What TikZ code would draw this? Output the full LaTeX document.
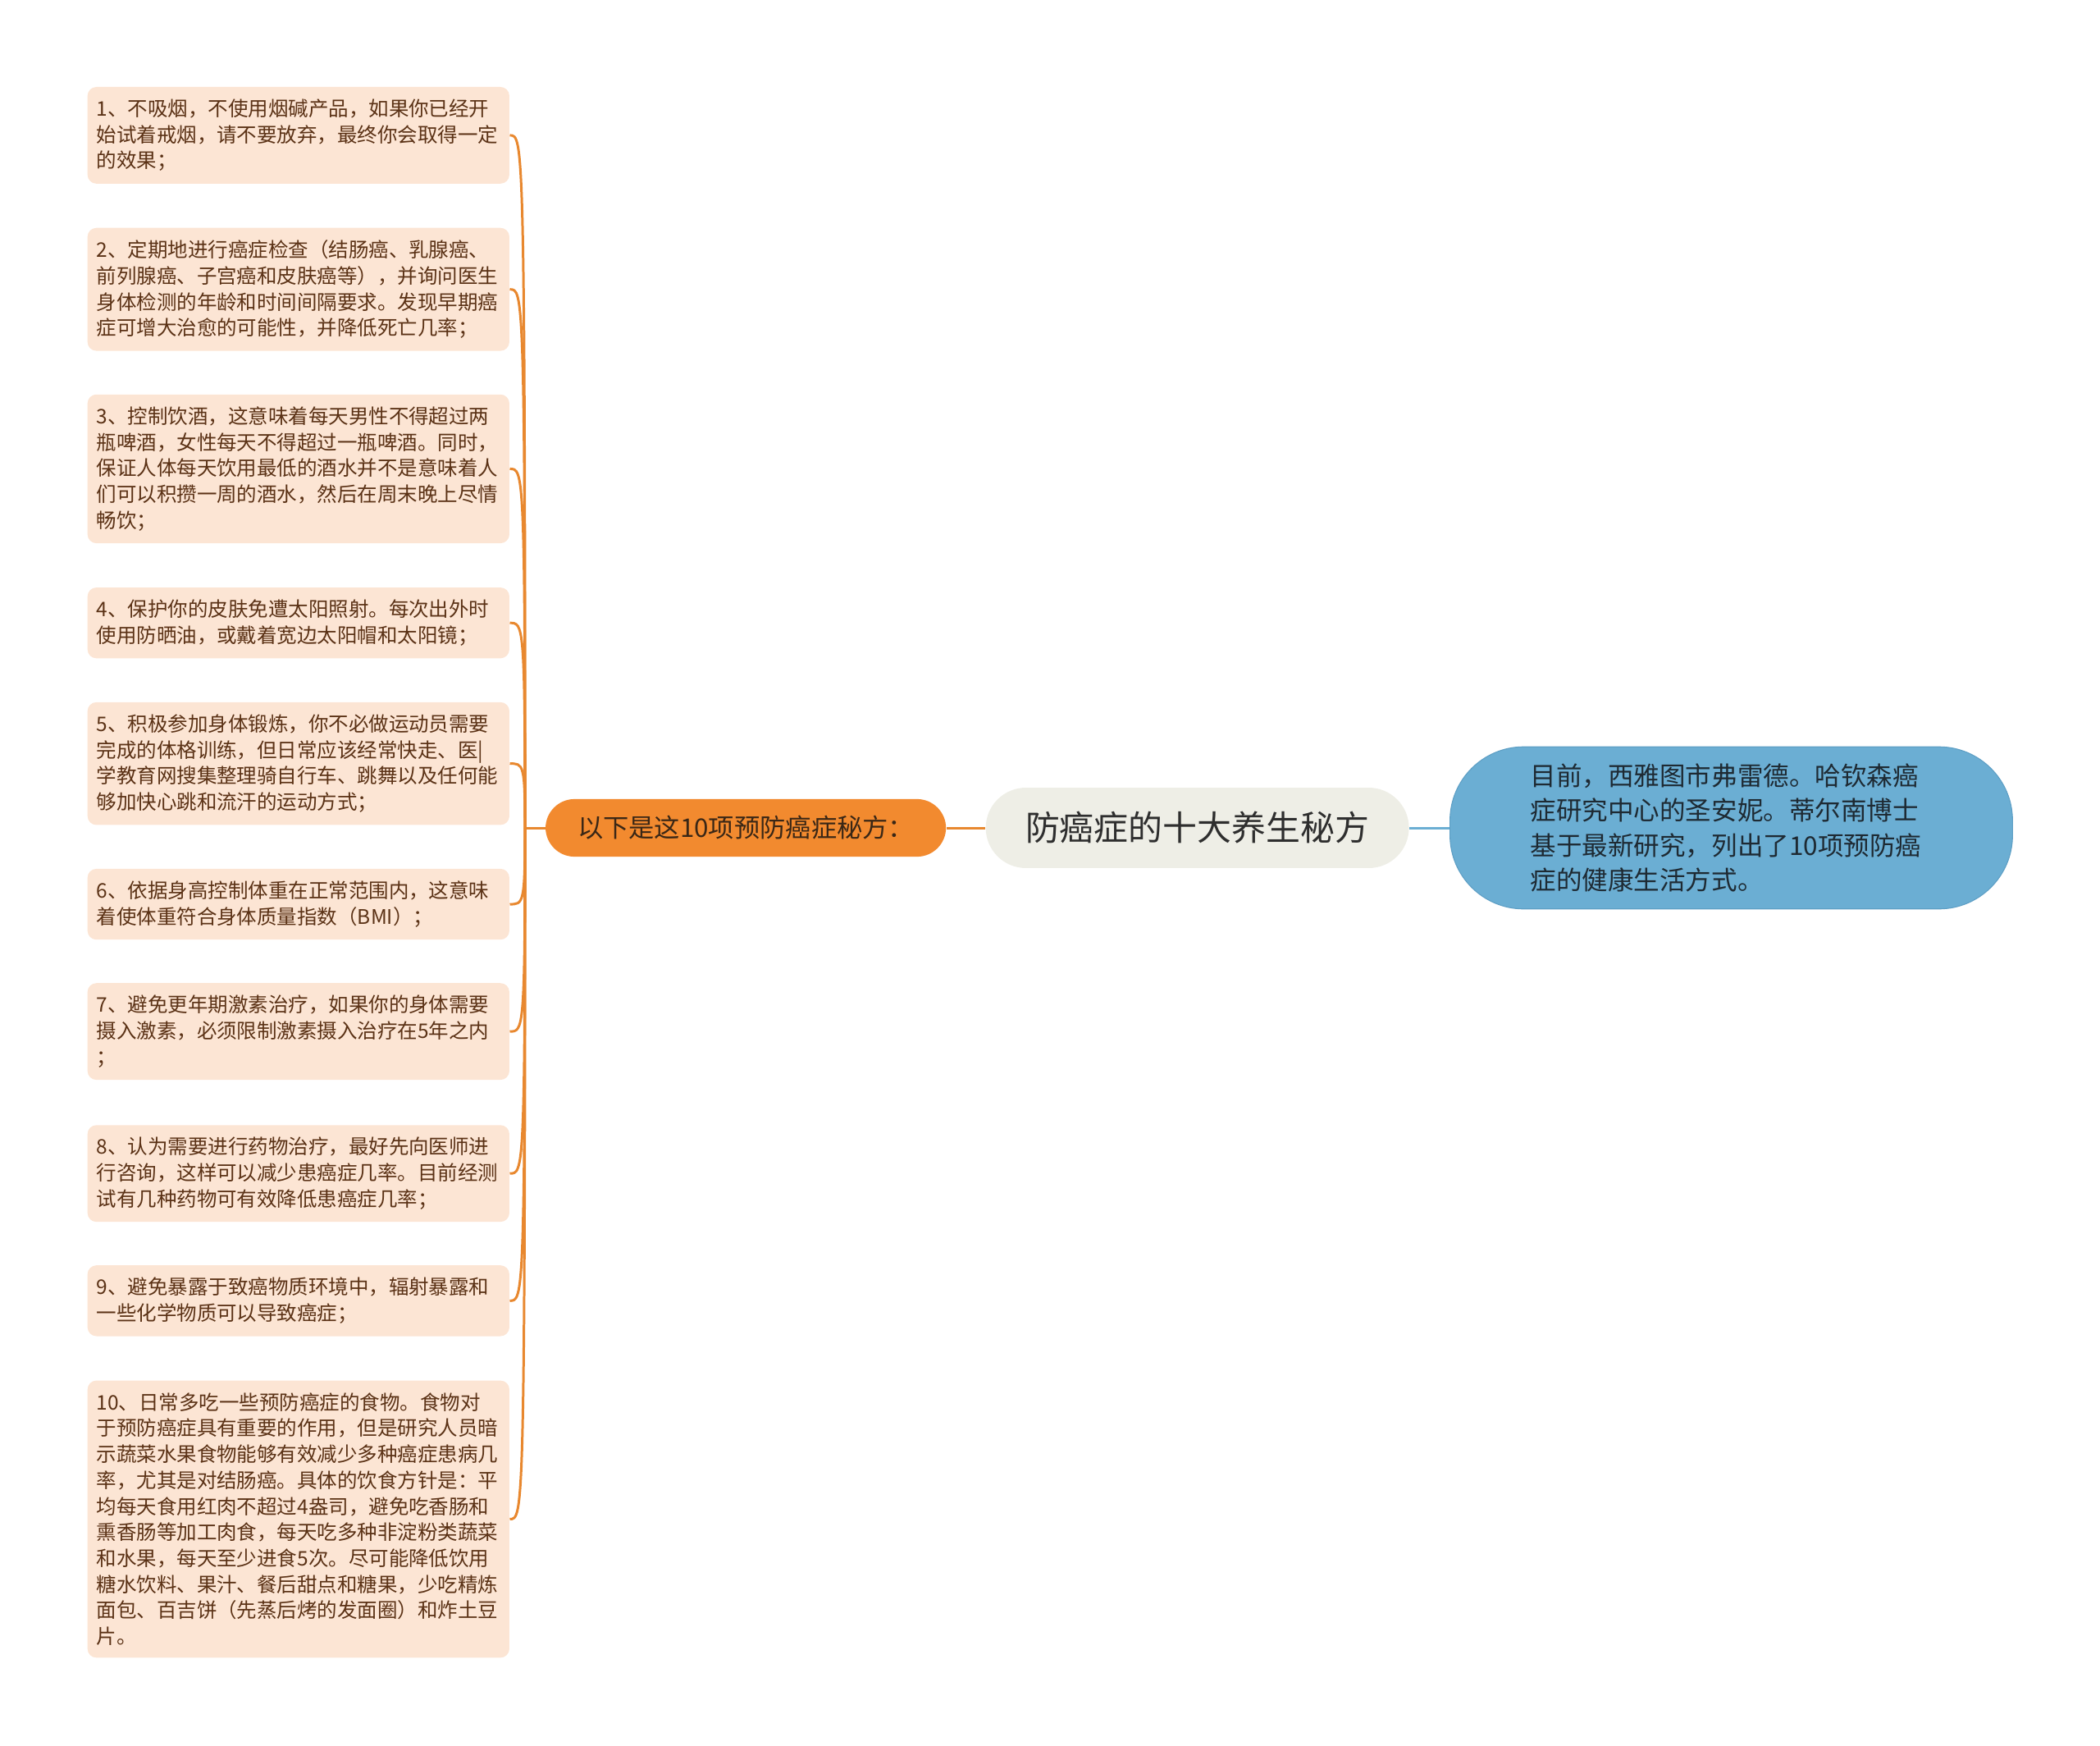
\documentclass[tikz,border=0pt]{standalone}
\usepackage{fontspec}
\newfontfamily\cjk{Noto Sans CJK SC}
\usetikzlibrary{positioning,calc}
\definecolor{leaffill}{HTML}{FCE5D4}
\definecolor{leaftext}{HTML}{5B3216}
\definecolor{suborange}{HTML}{F28A2F}
\definecolor{subtext}{HTML}{3A2716}
\definecolor{branchorange}{HTML}{E8882F}
\definecolor{topicfill}{HTML}{EEEEE6}
\definecolor{topictext}{HTML}{2E2E2E}
\definecolor{notefill}{HTML}{6BAED3}
\definecolor{noteline}{HTML}{5E9FC5}
\definecolor{notetext}{HTML}{1E2A33}
\tikzstyle{branch} = [draw, line width=1.1pt, color=branchorange]
\tikzstyle{link} = [draw, line width=1.1pt, color=notefill]

\begin{document}
\begin{tikzpicture}[x=0.6pt,y=-0.6pt]
\tikzset{leaf/.style={rectangle, rounded corners=4pt, fill=leaffill, text=leaftext, text width=181pt, align=left, inner xsep=4pt, inner ysep=5.5pt, anchor=west, font=\cjk\fontsize{9}{11.64}\selectfont}}
\tikzset{topic/.style={rectangle, rounded corners=18pt, fill=topicfill, text=topictext, minimum width=189.6pt, minimum height=36pt, font=\cjk\fontsize{15.4}{18}\selectfont}}
\tikzset{sub/.style={rectangle, rounded corners=13pt, fill=suborange, text=subtext, minimum width=179.4pt, minimum height=25.8pt, font=\cjk\fontsize{11.5}{13}\selectfont}}
\tikzset{note/.style={rectangle, rounded corners=33pt, fill=notefill, draw=noteline, text=notetext, text width=180pt, align=left, inner xsep=36pt, minimum height=72.6pt, font=\cjk\fontsize{11.6}{15.6}\selectfont}}
\useasboundingbox (0,0) rectangle (1568,1303);

\node [topic] (top) at (894,618) {防癌症的十大养生秘方};
\node [sub, left=17.4pt of top] (sub) {以下是这10项预防癌症秘方：};
\node [note, right=18pt of top] (note) {目前，西雅图市弗雷德。哈钦森癌\\症研究中心的圣安妮。蒂尔南博士\\基于最新研究，列出了10项预防癌\\症的健康生活方式。};
\path [branch] (sub.east) -- (top.west);
\path [link] (top.east) -- (note.west);

\node [leaf] (l1) at (65,101) {1、不吸烟，不使用烟碱产品，如果你已经开\\始试着戒烟，请不要放弃，最终你会取得一定\\的效果；};
\node [leaf] (l2) at (65,216) {2、定期地进行癌症检查（结肠癌、乳腺癌、\\前列腺癌、子宫癌和皮肤癌等），并询问医生\\身体检测的年龄和时间间隔要求。发现早期癌\\症可增大治愈的可能性，并降低死亡几率；};
\node [leaf] (l3) at (65,350) {3、控制饮酒，这意味着每天男性不得超过两\\瓶啤酒，女性每天不得超过一瓶啤酒。同时，\\保证人体每天饮用最低的酒水并不是意味着人\\们可以积攒一周的酒水，然后在周末晚上尽情\\畅饮；};
\node [leaf] (l4) at (65,465) {4、保护你的皮肤免遭太阳照射。每次出外时\\使用防晒油，或戴着宽边太阳帽和太阳镜；};
\node [leaf] (l5) at (65,570) {5、积极参加身体锻炼，你不必做运动员需要\\完成的体格训练，但日常应该经常快走、医|\\学教育网搜集整理骑自行车、跳舞以及任何能\\够加快心跳和流汗的运动方式；};
\node [leaf] (l6) at (65,675) {6、依据身高控制体重在正常范围内，这意味\\着使体重符合身体质量指数（BMI）；};
\node [leaf] (l7) at (65,770) {7、避免更年期激素治疗，如果你的身体需要\\摄入激素，必须限制激素摄入治疗在5年之内\\；};
\node [leaf] (l8) at (65,876) {8、认为需要进行药物治疗，最好先向医师进\\行咨询，这样可以减少患癌症几率。目前经测\\试有几种药物可有效降低患癌症几率；};
\node [leaf] (l9) at (65,971) {9、避免暴露于致癌物质环境中，辐射暴露和\\一些化学物质可以导致癌症；};
\node [leaf] (l10) at (65,1134) {10、日常多吃一些预防癌症的食物。食物对\\于预防癌症具有重要的作用，但是研究人员暗\\示蔬菜水果食物能够有效减少多种癌症患病几\\率，尤其是对结肠癌。具体的饮食方针是：平\\均每天食用红肉不超过4盎司，避免吃香肠和\\熏香肠等加工肉食，每天吃多种非淀粉类蔬菜\\和水果，每天至少进食5次。尽可能降低饮用\\糖水饮料、果汁、餐后甜点和糖果，少吃精炼\\面包、百吉饼（先蒸后烤的发面圈）和炸土豆\\片。};

% trunk of the left branch
\coordinate (trunk) at ([xshift=-9pt]sub.west);
\path [branch] (sub.west) -- (trunk);
\foreach \i in {1,...,10}
  \path [branch] (trunk) .. controls (trunk |- l\i.east) and ([xshift=6pt]l\i.east) .. (l\i.east);
\end{tikzpicture}
\end{document}
